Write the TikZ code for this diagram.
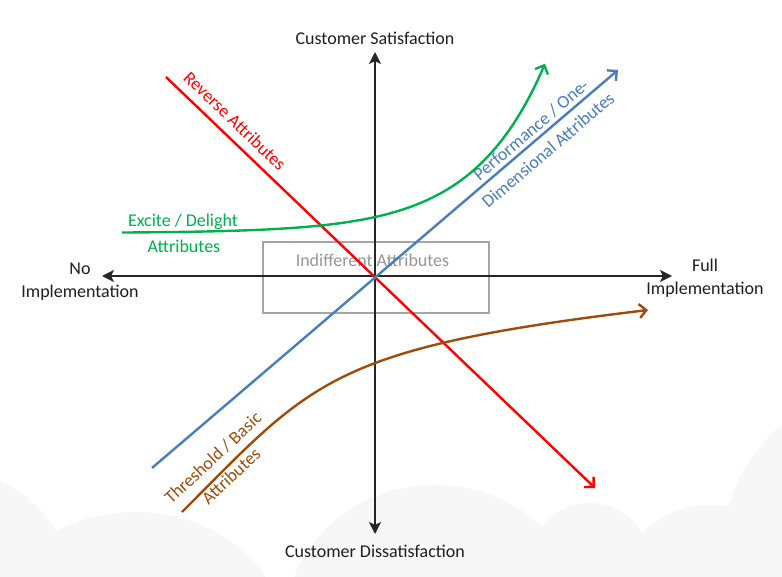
\documentclass[tikz,border=0pt]{standalone}
\usepackage{fontspec}
\setmainfont{Carlito}
\usetikzlibrary{arrows.meta}
\definecolor{cgreen}{RGB}{0,176,80}
\definecolor{cblue}{RGB}{74,126,187}
\definecolor{cbrown}{RGB}{158,76,12}
\definecolor{cred}{RGB}{255,0,0}
\definecolor{cloudc}{RGB}{247,247,247}
\definecolor{boxgray}{RGB}{165,165,165}
\definecolor{txtgray}{RGB}{150,150,150}
\definecolor{axtxt}{RGB}{30,30,30}
\begin{document}
\begin{tikzpicture}[x=1pt,y=-1pt,
  lbl/.style={font=\fontsize{18}{23}\selectfont, inner sep=0pt, text=axtxt},
  axisline/.style={line width=2pt, black!85, {Stealth[length=12pt,width=12pt,inset=3pt]}-{Stealth[length=12pt,width=12pt,inset=3pt]}},
  curveline/.style={line width=2.4pt, -{Straight Barb[length=7pt,width=14pt]}},
  boxstyle/.style={draw=boxgray, line width=1.5pt, minimum width=226pt, minimum height=71pt, inner sep=0pt},
]
\fill[white] (0,0) rectangle (782,576);
\useasboundingbox (0,0) rectangle (782,576);
% faint background clouds
\begin{scope}
\clip (0,0) rectangle (782,576);
\fill[cloudc] (-60,605) circle (138);
\fill[cloudc] (135,640) ellipse (150 and 128);
\fill[cloudc] (435,625) ellipse (150 and 140);
\fill[cloudc] (590,563) circle (60);
\fill[cloudc] (710,600) circle (95);
\fill[cloudc] (900,560) circle (180);
\end{scope}

% indifferent box
\node[boxstyle] (box) at (376,277.5) {};
\node[lbl, text=txtgray] (indiff) at (372.5,260) {Indifferent Attributes};

% axis labels
\node[lbl] (top) at (375,38) {Customer Satisfaction};
\node[lbl] (bot) at (375,551) {Customer Dissatisfaction};
\node[lbl, align=center] (left) at (80,282) {No\\Implementation};
\node[lbl, align=center] (right) at (705,278) {Full\\Implementation};

% axes
\coordinate (ytop) at (375,52);
\coordinate (ybot) at (375,534);
\coordinate (xl) at (102,276);
\coordinate (xr) at (672,276);
\draw[axisline] (ybot) -- (ytop);
\draw[axisline] (xl) -- (xr);

% reverse
\coordinate (rs) at (166,77);
\coordinate (re) at (595,488);
\draw[curveline, cred] (rs) -- (re);
\node[lbl, text=cred, rotate=-43.8] (revlbl) at (235,121) {Reverse Attributes};

% performance
\coordinate (ps) at (152,468);
\coordinate (pe) at (618,70);
\draw[curveline, cblue] (ps) -- (pe);
\node[lbl, text=cblue, rotate=40.4] (perf1) at (531,130) {Performance / One-};
\node[lbl, text=cblue, rotate=40.4] (perf2) at (548,150) {Dimensional Attributes};

% excite
\draw[curveline, cgreen] plot[domain=122:545, samples=90, smooth] (\x, {233-0.476*exp(0.01389*(\x-122))});
\node[lbl, text=cgreen] (exc1) at (183,222) {Excite / Delight};
\node[lbl, text=cgreen] (exc2) at (184,246) {Attributes};

% threshold
\coordinate (bs) at (182,512);
\coordinate (be) at (648,310);
\draw[curveline, cbrown] (bs) .. controls (312,382) and (328,348.4) .. (be);
\node[lbl, text=cbrown, rotate=43] (thr1) at (213,458) {Threshold / Basic};
\node[lbl, text=cbrown, rotate=43] (thr2) at (231,476) {Attributes};
\end{tikzpicture}
\end{document}
